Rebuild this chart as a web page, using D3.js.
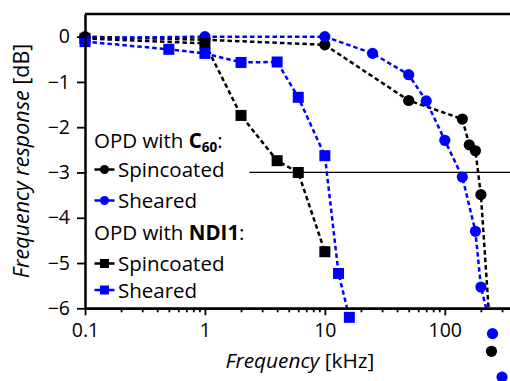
<!DOCTYPE html>
<head>
<meta charset="utf-8">
<title>Frequency response</title>
<script src="https://d3js.org/d3.v7.min.js"></script>
<style>
body { margin: 0; background: #fff; }
svg { display: block; overflow: visible; }
text { font-family: "Open Sans", Lato, sans-serif; fill: #000; }
</style>
</head>
<body>
<div id="container"></div>
<script>
//-----------------------------DATA-----------------------------//
// frequency in kHz, response in dB
const c60SpinFreq  = [0.1, 1, 10, 50, 140, 160, 180, 200, 245];
const c60SpinResp  = [0, -0.07, -0.18, -1.41, -1.82, -2.39, -2.52, -3.49, -6.95];
const c60ShearFreq = [0.1, 1, 10, 25, 50, 70, 100, 140, 180, 200, 250, 300];
const c60ShearResp = [-0.03, 0, 0, -0.37, -0.84, -1.42, -2.29, -3.10, -4.30, -5.53, -6.56, -7.52];
const ndiSpinFreq  = [0.1, 1, 2, 4, 6, 10];
const ndiSpinResp  = [-0.04, -0.15, -1.74, -2.74, -3.0, -4.75];
const ndiShearFreq = [0.1, 0.5, 1, 2, 4, 6, 10, 13, 16];
const ndiShearResp = [-0.11, -0.28, -0.37, -0.57, -0.56, -1.34, -2.63, -5.23, -6.2];

const yTicks = [0, -1, -2, -3, -4, -5, -6];
const xTicks = [0.1, 1, 10, 100];
const xMinor = [0.2,0.3,0.4,0.5,0.6,0.7,0.8,0.9, 2,3,4,5,6,7,8,9, 20,30,40,50,60,70,80,90, 200,300,400];
const cutoff = -3;

const series = [
  {id: "c60spin",  freq: c60SpinFreq,  resp: c60SpinResp,  color: "#000", shape: "circle"},
  {id: "c60shear", freq: c60ShearFreq, resp: c60ShearResp, color: "#00f", shape: "circle"},
  {id: "ndispin",  freq: ndiSpinFreq,  resp: ndiSpinResp,  color: "#000", shape: "square"},
  {id: "ndishear", freq: ndiShearFreq, resp: ndiShearResp, color: "#00f", shape: "square"}
];

//-----------------------------SVG------------------------------//
const width = 510, height = 381;
const margin = {top: 14, left: 85, bottom: 72.7};
const plotRight = 517;
const tickFont = "19.5px";
const labelFont = "20.5px";

const svg = d3.select("#container").append("svg")
    .attr("width", width)
    .attr("height", height);

//----------------------------SCALES----------------------------//
const x = d3.scaleLog().domain([0.1, 400]).range([margin.left, plotRight]);
const y = d3.scaleLinear().domain([-6, 0.5]).range([height - margin.bottom, margin.top]);
const yBottom = height - margin.bottom;

svg.append("clipPath").attr("id", "plotclip")
  .append("rect")
    .attr("x", margin.left).attr("y", margin.top)
    .attr("width", plotRight - margin.left)
    .attr("height", yBottom - margin.top);

//----------------------------CUTOFF----------------------------//
svg.append("line")
    .attr("x1", x(0.1)).attr("x2", plotRight)
    .attr("y1", y(cutoff)).attr("y2", y(cutoff))
    .attr("stroke", "#000").attr("stroke-width", 1.3);

//----------------------------LINES-----------------------------//
const line = d3.line()
    .x(d => x(d[0]))
    .y(d => y(d[1]));

const groups = svg.selectAll("g.serie")
    .data(series)
    .enter()
    .append("g")
    .attr("class", "serie");

groups.append("path")
    .attr("clip-path", "url(#plotclip)")
    .attr("fill", "none")
    .attr("stroke", d => d.color)
    .attr("stroke-width", 2.5)
    .attr("stroke-dasharray", "4.5,3")
    .attr("d", d => line(d.freq.map((f, i) => [f, d.resp[i]])));

// markers are not clipped (points below -6 stay visible)
groups.each(function(s) {
  const g = d3.select(this);
  const pts = s.freq.map((f, i) => [f, s.resp[i]]);
  if (s.shape === "circle") {
    g.selectAll("circle").data(pts).enter().append("circle")
      .attr("cx", d => x(d[0])).attr("cy", d => y(d[1]))
      .attr("r", 5.6).attr("fill", s.color);
  } else {
    g.selectAll("rect").data(pts).enter().append("rect")
      .attr("x", d => x(d[0]) - 5.5).attr("y", d => y(d[1]) - 5.5)
      .attr("width", 11).attr("height", 11).attr("fill", s.color);
  }
});

//----------------------------LEGEND----------------------------//
const legend = svg.append("g").attr("transform", "translate(" + (margin.left + 1.5) + ",127)");
legend.append("rect")
    .attr("width", 163).attr("height", yBottom - 128 - 1.5)
    .attr("fill", "#fff");

const legendRows = [
  {type: "title", y: 21, pre: "OPD with ", bold: "C", sub: "60"},
  {type: "item", y: 42.5, color: "#000", shape: "circle", label: "Spincoated"},
  {type: "item", y: 73.5, color: "#00f", shape: "circle", label: "Sheared"},
  {type: "title", y: 113, pre: "OPD with ", bold: "NDI1", sub: ""},
  {type: "item", y: 136.5, color: "#000", shape: "square", label: "Spincoated"},
  {type: "item", y: 163, color: "#00f", shape: "square", label: "Sheared"}
];

legendRows.forEach(r => {
  if (r.type === "title") {
    const t = legend.append("text").attr("x", 7.5).attr("y", r.y).style("font-size", labelFont);
    t.append("tspan").text(r.pre);
    t.append("tspan").style("font-weight", "bold").text(r.bold);
    if (r.sub) t.append("tspan").style("font-weight", "bold").style("font-size", "13.5px")
        .attr("dy", 4).text(r.sub);
    t.append("tspan").attr("dy", r.sub ? -4 : 0).text(":");
  } else {
    legend.append("line")
      .attr("x1", 8).attr("x2", 28).attr("y1", r.y).attr("y2", r.y)
      .attr("stroke", r.color).attr("stroke-width", 2.5);
    if (r.shape === "circle") {
      legend.append("circle").attr("cx", 18).attr("cy", r.y).attr("r", 4.5).attr("fill", r.color);
    } else {
      legend.append("rect").attr("x", 13.5).attr("y", r.y - 4.5)
        .attr("width", 9).attr("height", 9).attr("fill", r.color);
    }
    legend.append("text").attr("x", 31.5).attr("y", r.y + 7.5)
      .style("font-size", labelFont).text(r.label);
  }
});

//-----------------------------AXES-----------------------------//
const yaxis = d3.axisLeft(y)
    .tickValues(yTicks)
    .tickSize(8)
    .tickSizeOuter(0)
    .tickPadding(7)
    .tickFormat(d => d === 0 ? "0" : "\u2212" + Math.abs(d));

const xaxis = d3.axisBottom(x)
    .tickValues(xTicks)
    .tickSize(7)
    .tickSizeOuter(0)
    .tickPadding(8)
    .tickFormat(d => d < 1 ? "0.1" : d3.format("d")(d));

const xminor = d3.axisBottom(x)
    .tickValues(xMinor)
    .tickSize(4)
    .tickSizeOuter(0)
    .tickFormat("");

svg.append("g")
    .attr("transform", "translate(0," + yBottom + ")")
    .call(xminor);

svg.append("g")
    .attr("class", "axis")
    .attr("transform", "translate(0," + yBottom + ")")
    .call(xaxis);

svg.append("g")
    .attr("class", "axis")
    .attr("transform", "translate(" + margin.left + ",0)")
    .call(yaxis);

// top frame
svg.append("line")
    .attr("x1", margin.left).attr("x2", plotRight)
    .attr("y1", margin.top).attr("y2", margin.top)
    .attr("stroke", "#000").attr("stroke-width", 2.5);

svg.selectAll(".domain").attr("stroke-width", 2.5);
svg.selectAll(".tick line").attr("stroke-width", 1.8);
svg.selectAll(".axis text")
    .style("font-family", "'Open Sans', Lato, sans-serif")
    .style("font-size", tickFont)
    .attr("fill", "#000");

//----------------------------TITLES----------------------------//
const xt = svg.append("text")
    .attr("x", 300).attr("y", 368)
    .attr("text-anchor", "middle")
    .style("font-size", "20.8px");
xt.append("tspan").style("font-style", "italic").text("Frequency");
xt.append("tspan").text(" [kHz]");

const yt = svg.append("text")
    .attr("transform", "translate(29,161) rotate(-90)")
    .attr("text-anchor", "middle")
    .style("font-size", "21.5px");
yt.append("tspan").style("font-style", "italic").text("Frequency response");
yt.append("tspan").text(" [dB]");
</script>
</body>
